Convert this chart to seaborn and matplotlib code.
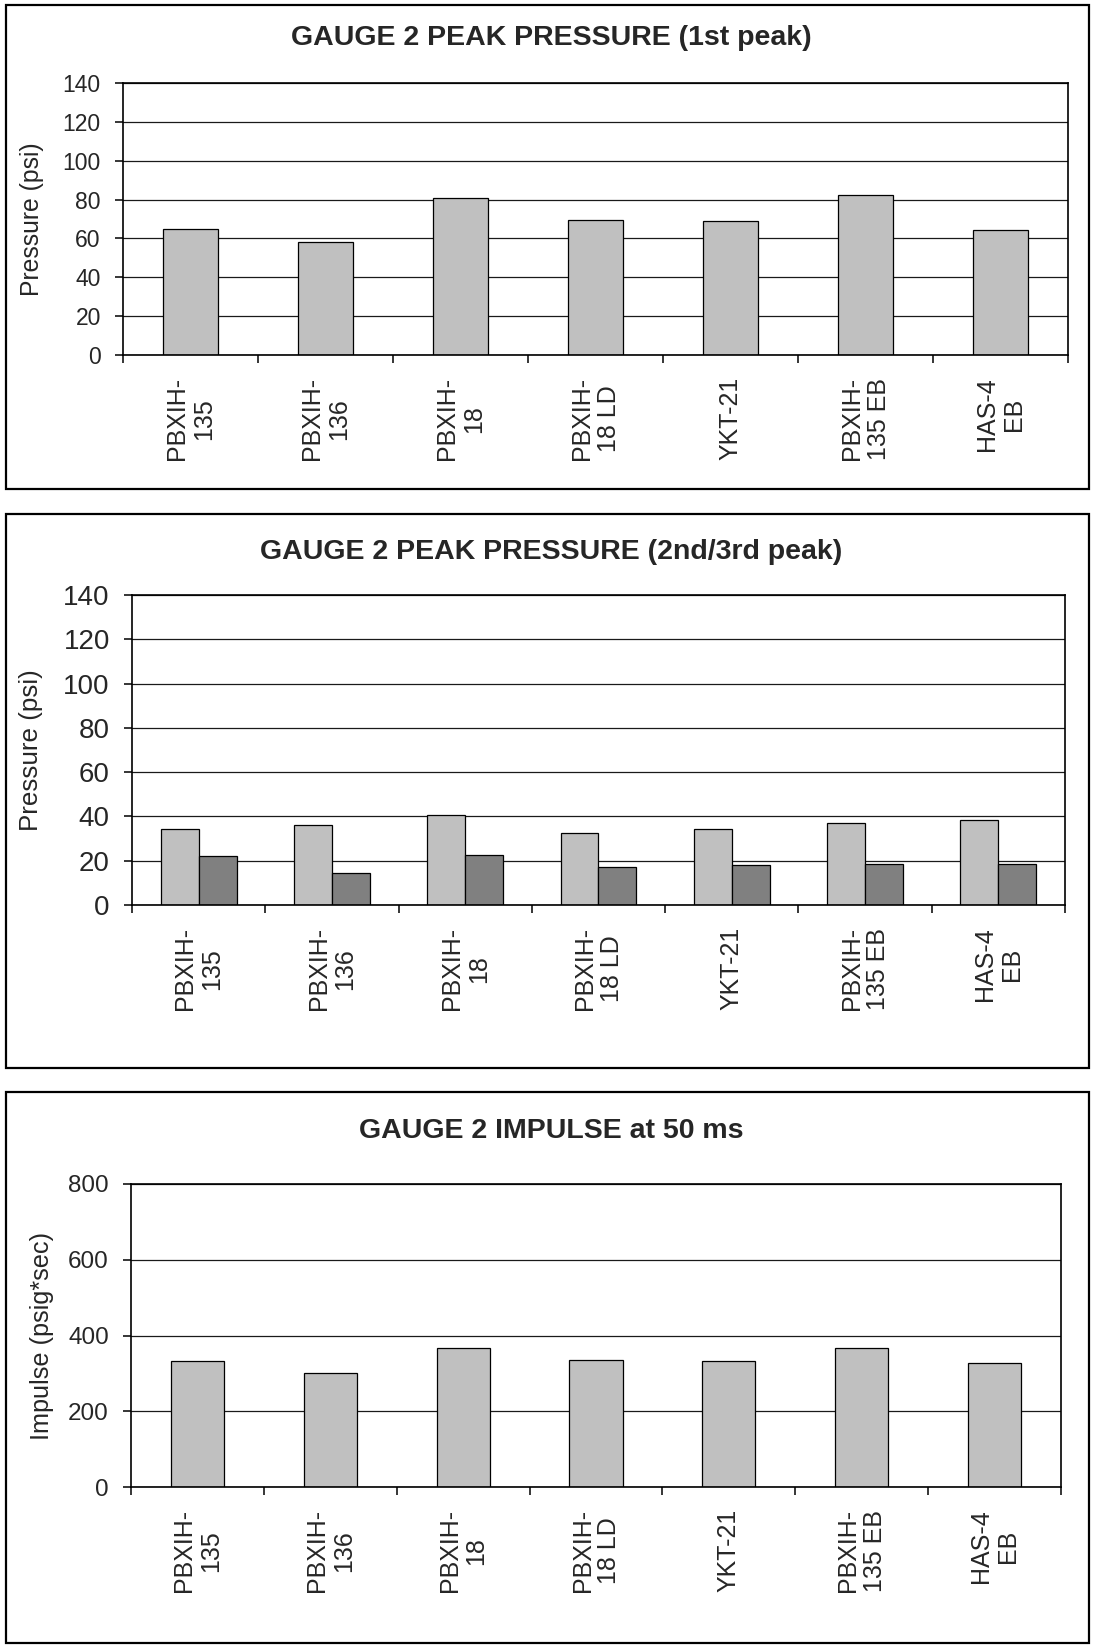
import matplotlib
matplotlib.use("Agg")
import matplotlib.pyplot as plt
import seaborn as sns
import pandas as pd
from matplotlib.patches import Rectangle

sns.set_style("white")
plt.rcParams['font.family'] = ['Liberation Sans', 'DejaVu Sans']

materials = ["PBXIH-\n135", "PBXIH-\n136", "PBXIH-\n18", "PBXIH-\n18 LD",
             "YKT-21", "PBXIH-\n135 EB", "HAS-4\nEB"]
peak1 = [64.8, 58.3, 80.8, 69.7, 69.0, 82.5, 64.2]
peak2 = [34.5, 36.3, 40.7, 32.7, 34.5, 37.2, 38.3]
peak3 = [22.0, 14.3, 22.8, 17.2, 18.0, 18.5, 18.5]
impulse = [332, 301, 366, 336, 332, 366, 327]

titles = ["GAUGE 2 PEAK PRESSURE (1st peak)",
          "GAUGE 2 PEAK PRESSURE (2nd/3rd peak)",
          "GAUGE 2 IMPULSE at 50 ms"]
ylabels = ["Pressure (psi)", "Pressure (psi)", "Impulse (psig*sec)"]
series_names = ["2nd peak", "3rd peak"]

W, H = 1095, 1648
fig = plt.figure(figsize=(W / 100, H / 100), dpi=100)

def fx(px):
    return px / W

def fy(py):
    return 1 - py / H

# panel borders
for (y0, y1) in [(5, 489), (514, 1068), (1092, 1643)]:
    fig.patches.append(Rectangle((fx(6), fy(y1)), fx(1089) - fx(6), fy(y0) - fy(y1),
                                 transform=fig.transFigure, fill=False,
                                 edgecolor='black', linewidth=1.6, zorder=0))

axes_px = [(123, 1068, 83, 355), (132, 1065, 595, 905), (131, 1061, 1184, 1487)]
axs = []
for (l, r, t, b) in axes_px:
    axs.append(fig.add_axes([fx(l), fy(b), fx(r) - fx(l), fy(t) - fy(b)]))

light = '#C0C0C0'
dark = '#808080'

df1 = pd.DataFrame({'material': materials, 'value': peak1})
sns.barplot(data=df1, x='material', y='value', order=materials, color=light,
            width=0.41, edgecolor='black', linewidth=0.9, ax=axs[0], saturation=1)

df2 = pd.DataFrame({'material': materials * 2,
                    'peak': [series_names[0]] * 7 + [series_names[1]] * 7,
                    'value': peak2 + peak3})
sns.barplot(data=df2, x='material', y='value', hue='peak', order=materials,
            hue_order=series_names, palette=[light, dark], width=0.57, gap=0,
            edgecolor='black', linewidth=0.9, ax=axs[1], saturation=1, legend=False)

df3 = pd.DataFrame({'material': materials, 'value': impulse})
sns.barplot(data=df3, x='material', y='value', order=materials, color=light,
            width=0.40, edgecolor='black', linewidth=0.9, ax=axs[2], saturation=1)

ylims = [(0, 140, 20), (0, 140, 20), (0, 800, 200)]
ytick_sizes = [16.5, 20, 17.5]
ylabel_sizes = [17.8, 18.7, 18.2]
ylabel_x = [44, 43, 54]
title_y = [38, 552, 1131]

for i, ax in enumerate(axs):
    lo, hi, step = ylims[i]
    ax.set_ylim(lo, hi)
    ax.set_yticks(range(lo, hi + 1, step))
    ax.set_xlim(-0.5, 6.5)
    ax.yaxis.grid(True, color='#1a1a1a', linewidth=0.9)
    ax.xaxis.grid(False)
    ax.set_axisbelow(True)
    for s in ax.spines.values():
        s.set_visible(True)
        s.set_color('black')
        s.set_linewidth(1.2)
    ax.set_xticks(range(7))
    ax.set_xticklabels(materials, rotation=90, ha='center', va='top',
                       multialignment='center', fontsize=18, linespacing=1.15)
    ax.set_xticks([k - 0.5 for k in range(8)], minor=True)
    ax.tick_params(axis='x', which='major', length=0, pad=16)
    ax.tick_params(axis='x', which='minor', length=6, width=1.1, color='black',
                   direction='out', bottom=True)
    ax.tick_params(axis='y', which='major', length=6, width=1.1, color='black',
                   direction='out', left=True, pad=10, labelsize=ytick_sizes[i])
    ax.set_xlabel('')
    ax.set_ylabel(ylabels[i], fontsize=ylabel_sizes[i])
    l, r = axes_px[i][0], axes_px[i][1]
    ax.yaxis.set_label_coords((ylabel_x[i] - l) / (r - l), 0.5)
    fig.text(fx(551), fy(title_y[i]), titles[i], ha='center', va='center',
             fontsize=20.5, fontweight='bold')

fig.savefig('out.png', dpi=100)
